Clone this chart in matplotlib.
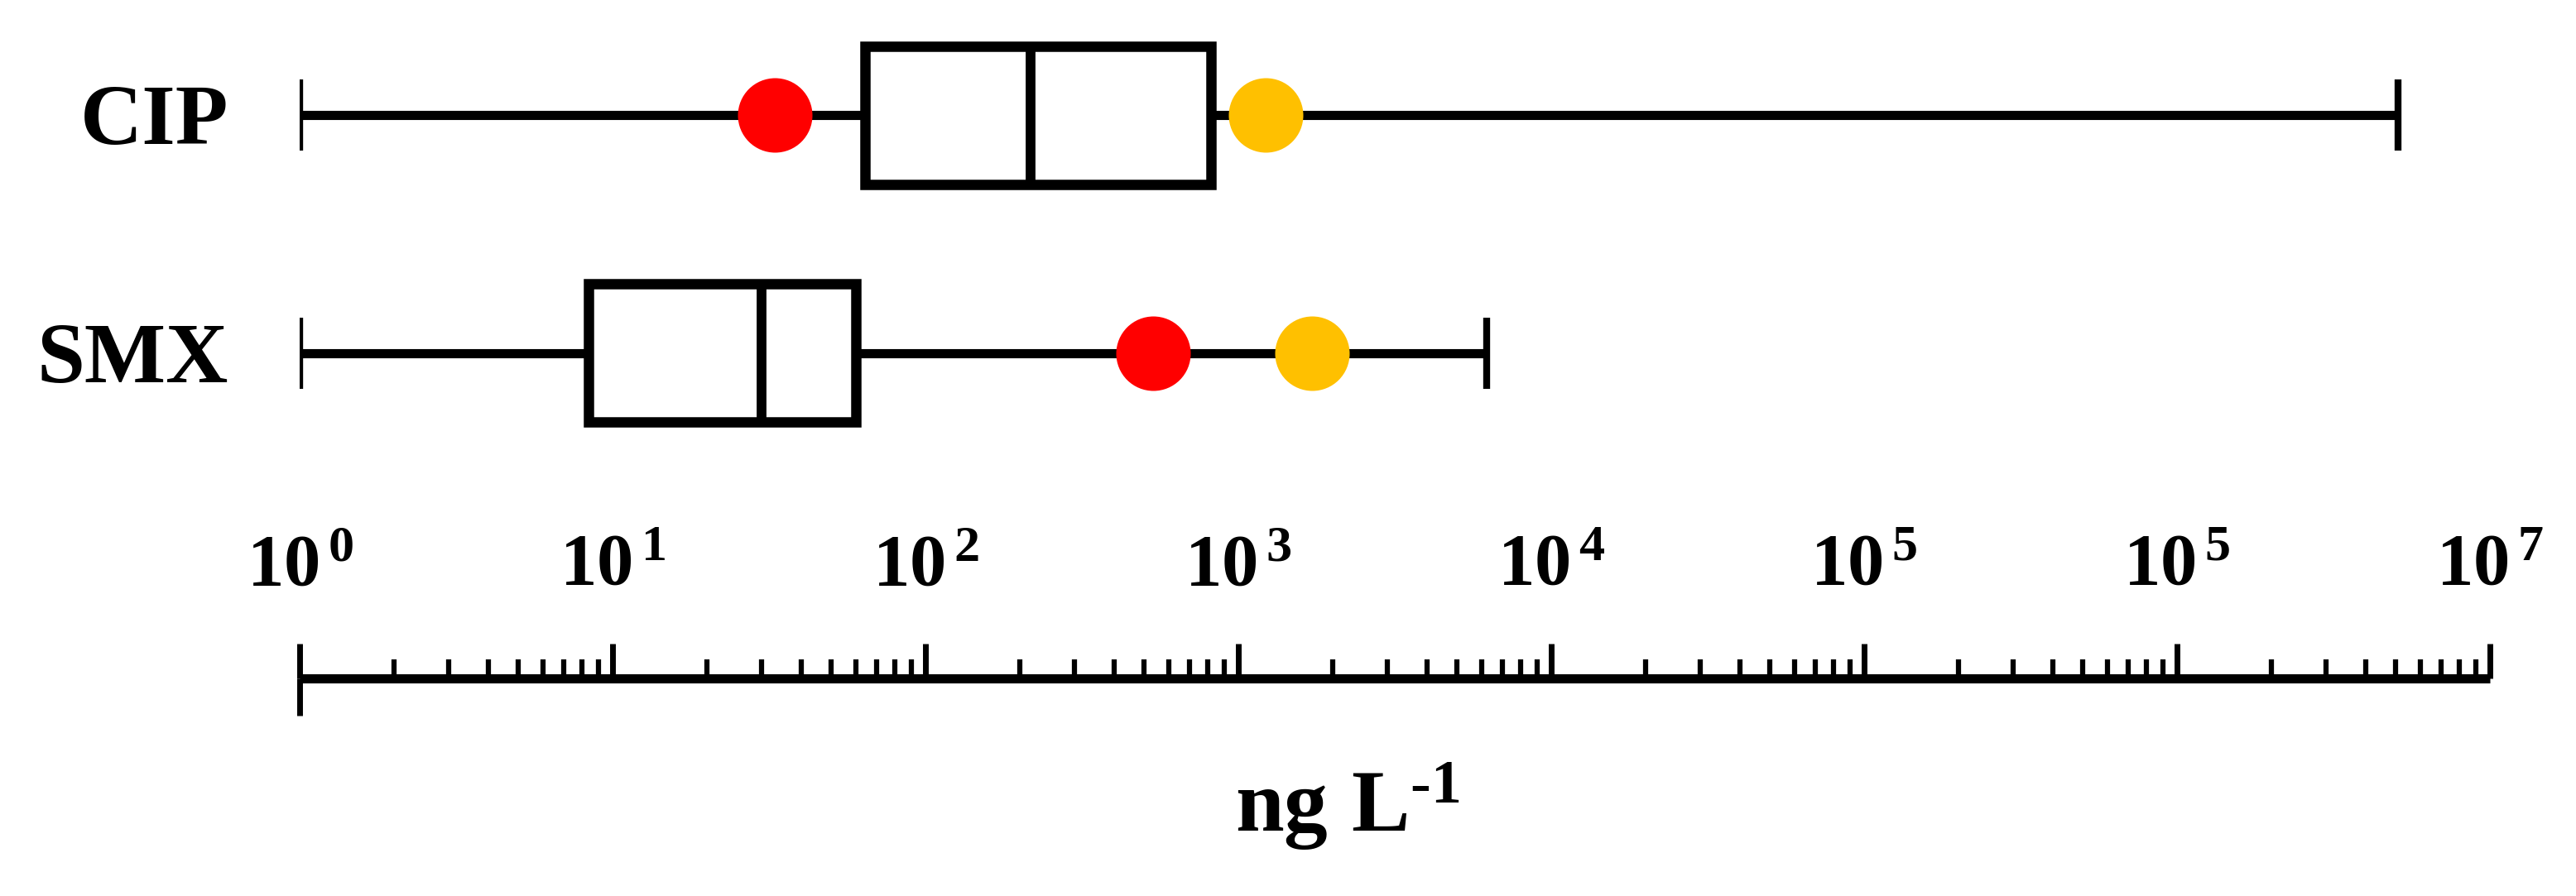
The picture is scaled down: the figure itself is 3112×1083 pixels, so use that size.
import numpy as np
import matplotlib
matplotlib.use("Agg")
import matplotlib.pyplot as plt
import matplotlib.ticker as mticker
import matplotlib.transforms as mtransforms

# values (ng/L, log scale)
compounds = ["CIP", "SMX"]
positions = [2, 1]
whis_low = [1.0, 1.0]
q1 = [64, 8.4]
medians = [217, 30]
q3 = [820, 60]
whis_high = [5.1e6, 6.2e3]
red_points = [33, 534]
yellow_points = [1220, 1720]

decades = [1e0, 1e1, 1e2, 1e3, 1e4, 1e5, 1e6, 1e7]
decade_labels = [r"$10^{\,0}$", r"$10^{\,1}$", r"$10^{\,2}$", r"$10^{\,3}$",
                 r"$10^{\,4}$", r"$10^{\,5}$", r"$10^{\,5}$", r"$10^{\,7}$"]

plt.rcParams["font.family"] = ["Liberation Serif", "DejaVu Serif"]
plt.rcParams["mathtext.fontset"] = "custom"
plt.rcParams["mathtext.rm"] = "Liberation Serif:bold"
plt.rcParams["mathtext.bf"] = "Liberation Serif:bold"
plt.rcParams["mathtext.it"] = "Liberation Serif:bold"
plt.rcParams["mathtext.default"] = "bf"

W, H = 3112, 1083
fig = plt.figure(figsize=(W / 100, H / 100), dpi=100)
ax = fig.add_axes([362 / W, (H - 820) / H, (3008 - 362) / W, 820 / H])

stats = []
for i, name in enumerate(compounds):
    stats.append(dict(label=name, whislo=whis_low[i], q1=q1[i], med=medians[i],
                      q3=q3[i], whishi=whis_high[i], fliers=[]))

ax.bxp(stats, positions=positions, orientation="horizontal", widths=0.58,
       capwidths=0.30, patch_artist=True, showfliers=False,
       boxprops=dict(facecolor="white", edgecolor="black", linewidth=9,
                     joinstyle="miter"),
       medianprops=dict(color="black", linewidth=8.5, solid_capstyle="butt"),
       whiskerprops=dict(color="black", linewidth=8, solid_capstyle="butt"),
       capprops=dict(color="black", linewidth=6, solid_capstyle="butt"))

ax.scatter(red_points, positions, s=4200, color="#ff0000", zorder=5, linewidths=0)
ax.scatter(yellow_points, positions, s=4200, color="#ffc000", zorder=5, linewidths=0)

ax.set_xscale("log")
ax.set_xlim(1, 1e7)
ax.set_ylim(-0.365, 2.483)

for s in ["top", "left", "right"]:
    ax.spines[s].set_visible(False)
ax.spines["bottom"].set_linewidth(8)
ax.spines["bottom"].set_capstyle("butt")

ax.xaxis.set_major_locator(mticker.FixedLocator(decades))
ax.xaxis.set_minor_locator(mticker.LogLocator(base=10, subs=np.arange(2, 10), numticks=100))
ax.tick_params(axis="x", which="major", direction="in", length=30, width=5,
               labelbottom=False)
ax.tick_params(axis="x", which="minor", direction="in", length=16.5, width=4.5,
               labelbottom=False)
ax.set_yticks([])

# little downward cap at the start of the axis
ax.plot([1, 1], [0, -0.055], transform=ax.get_xaxis_transform(), clip_on=False,
        color="black", linewidth=5, solid_capstyle="butt")

for x, lab in zip(decades, decade_labels):
    ax.text(x, 0.138, lab, transform=ax.get_xaxis_transform(), ha="center",
            va="baseline", fontsize=64)

ylab = mtransforms.blended_transform_factory(ax.transAxes, ax.transData)
for name, p in zip(compounds, positions):
    ax.text(-0.0325, p - 0.12, name, transform=ylab, ha="right", va="baseline",
            fontsize=75, fontweight="bold")

fig.text(1628 / W, (H - 1005) / H, r"$ng\ L^{\text{-}1}$", ha="center",
         va="baseline", fontsize=76)

fig.savefig("out.png", dpi=100, facecolor="white")
